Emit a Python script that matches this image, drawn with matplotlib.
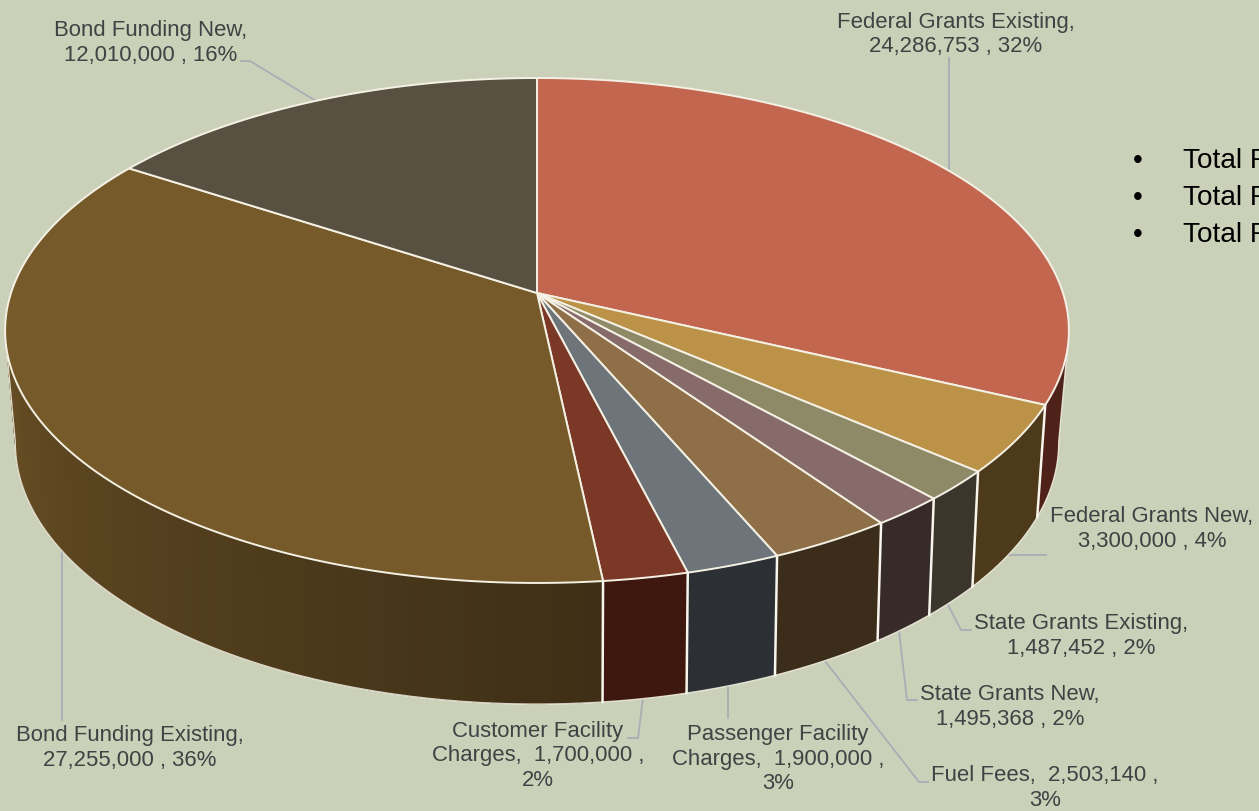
import numpy as np
import matplotlib
matplotlib.use("Agg")
import matplotlib.pyplot as plt
from matplotlib.colors import to_rgb

# ---- data ----
names = ["Federal Grants Existing", "Federal Grants New", "State Grants Existing",
         "State Grants New", "Fuel Fees", "Passenger Facility Charges",
         "Customer Facility Charges", "Bond Funding Existing", "Bond Funding New"]
values = [24286753, 3300000, 1487452, 1495368, 2503140, 1900000, 1700000, 27255000, 12010000]
bullets = ["Total F", "Total F", "Total F"]

# ---- style ----
plt.rcParams['font.family'] = ['Liberation Sans', 'DejaVu Sans']
BG = "#cbd1b9"
top_colors = ["#c26650", "#bb9248", "#8e8a68", "#876b6b", "#8f6f47",
              "#6d747a", "#7c3826", "#765a2a", "#585040"]
wall_colors = ["#4f2219", "#4d3a1a", "#3b352b", "#372b29", "#3c2c1a",
               "#2c3034", "#3e180e", None, None]
EDGE = "#f4f1e4"
LEAD = "#a9adb6"
TXT = "#404243"

# perspective planes: (cx, cy, a, b, k)
TOP = (537, 293, 526.0, 246.9, 0.1485)
BOT = (537, 401, 515.0, 254.6, 0.16)


def project(theta, plane):
    cx, cy, a, b, k = plane
    u, v = np.sin(theta), np.cos(theta)
    w = 1 + k * v
    return cx + a * u / w, cy - b * v / w


fig = plt.figure(figsize=(12.59, 8.11), dpi=100, facecolor=BG)
ax = fig.add_axes([0, 0, 1, 1])
ax.set_xlim(0, 1259)
ax.set_ylim(811, 0)
ax.axis("off")

vals = np.array(values, float)
edges = np.concatenate([[0], np.cumsum(vals) / vals.sum()]) * 2 * np.pi
lo, hi = np.radians(99), np.radians(261)   # wall range between the silhouette tangents


def bond_shade(th):
    # lighter to the left, fading toward the front
    t = np.clip((np.degrees(th) - 174) / (270 - 174), 0, 1)
    return 0.52 + 0.40 * t


def wall(t0, t1, color):
    th = np.linspace(t0, t1, max(3, int(np.degrees(t1 - t0)) + 2))
    xa, ya = project(th, TOP)
    xb, yb = project(th[::-1], BOT)
    ax.fill(np.r_[xa, xb], np.r_[ya, yb], facecolor=color, edgecolor="none", zorder=2)


# ---- walls ----
for i in range(len(vals)):
    t0, t1 = max(edges[i], lo), min(edges[i + 1], hi)
    if t1 <= t0:
        continue
    if wall_colors[i] is not None:
        wall(t0, t1, wall_colors[i])
    else:
        # gradient: overlapping strips so that no bands show
        steps = np.arange(t1, t0, -np.radians(0.5))
        for s in steps:
            wall(max(s - np.radians(3), t0), s,
                 tuple(np.array(to_rgb(top_colors[i])) * bond_shade(s)))

# lower outline and the two straight silhouette edges
tb = np.linspace(lo, hi, 400)
bx, by = project(tb, BOT)
sx0, sy0 = project(lo, TOP)
sx1, sy1 = project(hi, TOP)
ax.plot(np.r_[sx0, bx, sx1], np.r_[sy0, by, sy1], color=EDGE, lw=1.0, zorder=3,
        alpha=0.85, solid_joinstyle="round")

# seams on the wall
for e in edges:
    if np.cos(e) < -0.1:
        x0, y0 = project(e, TOP)
        x1, y1 = project(e, BOT)
        ax.plot([x0, x1], [y0, y1], color="#f7f5ec", lw=1.8, zorder=4)

# ---- top face ----
cx, cy = TOP[0], TOP[1]
for i in range(len(vals)):
    th = np.linspace(edges[i], edges[i + 1], 240)
    x, y = project(th, TOP)
    ax.fill(np.r_[cx, x], np.r_[cy, y], facecolor=top_colors[i], edgecolor=EDGE,
            lw=1.4, joinstyle="round", zorder=5)

# ---- labels ----
pct = [int(round(v / vals.sum() * 100)) for v in values]
fmt = ["{n},\n{v} , {p}%"] * 4 + ["{n},  {v} ,\n{p}%"] * 3 + ["{n},\n{v} , {p}%"] * 2
shown = list(names)
shown[5] = "Passenger Facility\nCharges"
shown[6] = "Customer Facility\nCharges"
label_xy = [(956, 34.5), (1152, 529), (1081, 636), (1010, 707), (1045, 788),
            (778, 759), (538, 756), (130, 748), (151, 43)]
for i, (x, y) in enumerate(label_xy):
    ax.text(x, y, fmt[i].format(n=shown[i], v=f"{values[i]:,}", p=pct[i]),
            ha="center", va="center", ma="center", fontsize=15.9, color=TXT,
            linespacing=1.24, zorder=8)

# ---- leader lines ----
leaders = [
    [(949, 170), (949, 58)],
    [(1007, 555), (1046, 555)],
    [(947, 603), (961, 630), (971, 630)],
    [(899, 631), (907, 700), (917, 700)],
    [(825, 661), (919, 782), (928, 782)],
    [(728, 685), (728, 718)],
    [(643, 698), (638, 738), (628, 738)],
    [(62, 548), (62, 720)],
    [(316, 101), (250, 61), (241, 61)],
]
for pts in leaders:
    p = np.array(pts)
    ax.plot(p[:, 0], p[:, 1], color=LEAD, lw=1.3, zorder=1)

# ---- bullet list, running off the slide ----
for s, y in zip(bullets, (161, 198, 235)):
    ax.text(1138, y, "\u2022", ha="center", va="center", fontsize=20, color="black", zorder=8)
    ax.text(1183, y, s, ha="left", va="center", fontsize=20.2, color="black", zorder=8, clip_on=False)

fig.savefig("out.png", dpi=100, facecolor=BG)
